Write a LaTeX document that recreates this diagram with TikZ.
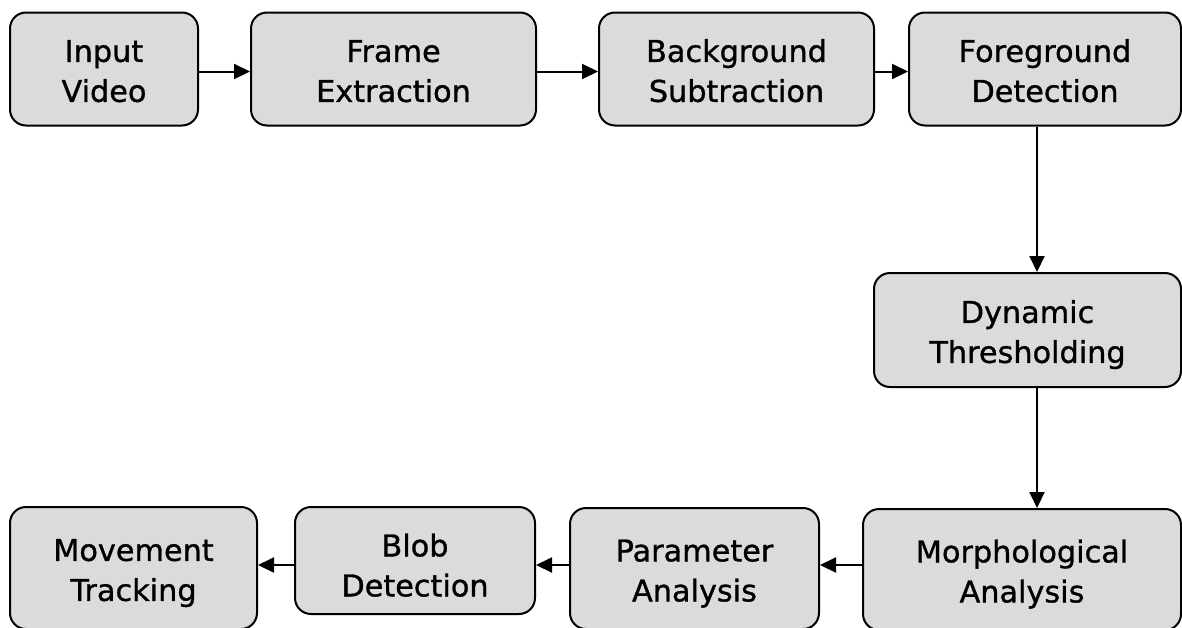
\documentclass[tikz,border=0pt]{standalone}
\usepackage{fontspec}
\newfontfamily\boxfont{DejaVu Sans}[FakeStretch=1.01,FakeBold=1]
\usetikzlibrary{arrows.meta}
\definecolor{boxfill}{HTML}{DBDBDB}
\begin{document}
\begin{tikzpicture}[x=1pt,y=-1pt,
  stage/.style={draw=black, fill=boxfill, line width=2pt, rounded corners=16pt,
    align=center, inner sep=0pt,
    font=\boxfont\fontsize{30}{40}\selectfont,
    execute at begin node={\rule{0pt}{72pt}},
    execute at end node={\vphantom{g}}},
  lowtext/.style={execute at begin node={\rule{0pt}{78pt}}},
  flow/.style={line width=2pt, -{Triangle[length=16pt,width=15pt]}}]
  \useasboundingbox (0,0) rectangle (1182,627);
  \clip (0,0) rectangle (1182,627);

  % top row
  \node[stage, minimum width=188pt, minimum height=113pt] (in) at (104,69)    {Input\\Video};
  \node[stage, minimum width=285pt, minimum height=113pt] (fr) at (393.5,69)  {Frame\\Extraction};
  \node[stage, minimum width=275pt, minimum height=113pt] (bg) at (736.5,69)  {Background\\Subtraction};
  \node[stage, minimum width=272pt, minimum height=113pt] (fg) at (1045,69)   {Foreground\\Detection};
  % right column
  \node[stage, minimum width=307pt, minimum height=114pt] (dy) at (1027.5,330) {Dynamic\\Thresholding};
  % bottom row
  \node[stage, minimum width=318pt, minimum height=121pt] (mo) at (1022,569.5) {Morphological\\Analysis};
  \node[stage, minimum width=249pt, minimum height=121pt] (pa) at (694.5,568.5) {Parameter\\Analysis};
  \node[stage, lowtext, minimum width=240pt, minimum height=107pt] (bl) at (415,560.5) {Blob\\Detection};
  \node[stage, minimum width=247pt, minimum height=122pt] (mv) at (133.5,568)  {Movement\\Tracking};

  % connector guides
  \coordinate (toprow) at (0,71.5);
  \coordinate (botrow) at (0,565);
  \coordinate (col) at (1037,0);

  \draw[flow] (in.east |- toprow) -- (fr.west |- toprow);
  \draw[flow] (fr.east |- toprow) -- (bg.west |- toprow);
  \draw[flow] (bg.east |- toprow) -- (fg.west |- toprow);
  \draw[flow] (fg.south -| col) -- (dy.north -| col);
  \draw[flow] (dy.south -| col) -- (mo.north -| col);
  \draw[flow] (mo.west |- botrow) -- (pa.east |- botrow);
  \draw[flow] (pa.west |- botrow) -- (bl.east |- botrow);
  \draw[flow] (bl.west |- botrow) -- (mv.east |- botrow);
\end{tikzpicture}
\end{document}
